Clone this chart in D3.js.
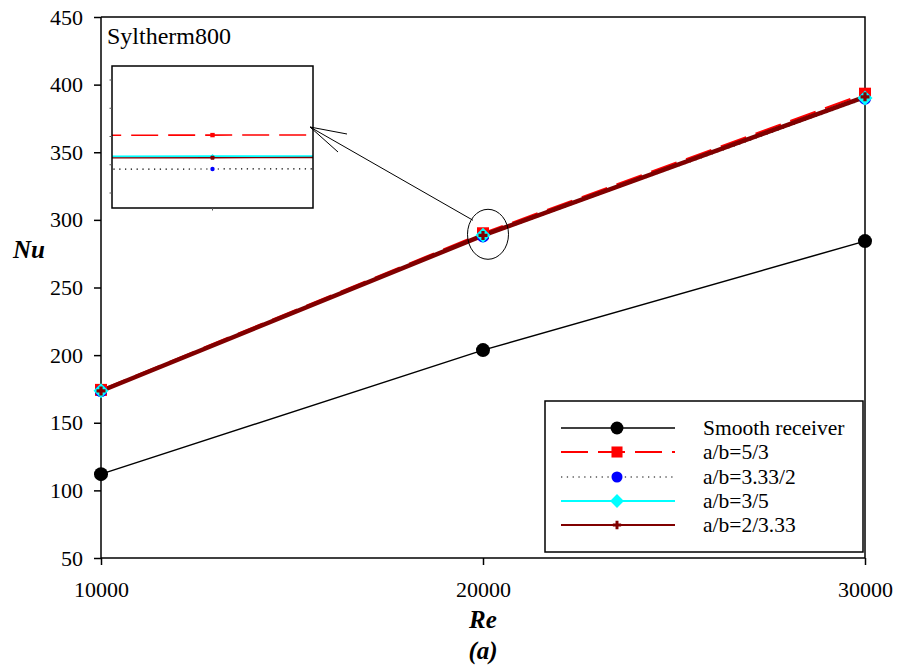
<!DOCTYPE html>
<html>
<head>
<meta charset="utf-8">
<script src="https://cdn.jsdelivr.net/npm/d3@7"></script>
<style>
  html, body { margin: 0; padding: 0; background: #fff; }
  svg text { font-family: "Liberation Serif", serif; fill: #000; }
</style>
</head>
<body>
<svg id="chart" width="901" height="670" font-family="Liberation Serif"></svg>
<script>
// Reynolds numbers on the x axis
const reValues = [10000, 20000, 30000];
// Nusselt number for each receiver
const nuSmooth = [112, 203.7, 284.3];
const nuAB53   = [174.3, 290.1, 393.3];
const nuAB332  = [173.3, 287.7, 389.6];
const nuAB35   = [173.6, 288.6, 390.2];
const nuAB233  = [173.5, 288.5, 391.0];
const yTicks = [50, 100, 150, 200, 250, 300, 350, 400, 450];
const xTicks = [10000, 20000, 30000];
const insetTicks = [286, 288, 290, 292, 294];
const seriesNames = ["Smooth receiver", "a/b=5/3", "a/b=3.33/2", "a/b=3/5", "a/b=2/3.33"];

const series = [
  { name: seriesNames[0], values: nuSmooth, line: "#000",    width: 1.5, dash: null,      marker: "circle",  fill: "#000",    size: 7 },
  { name: seriesNames[1], values: nuAB53,   line: "#ff0000", width: 2,   dash: "27,10",   marker: "square",  fill: "#ff0000", size: 6 },
  { name: seriesNames[2], values: nuAB332,  line: "#000",    width: 1.2, dash: "1.3,4.5", marker: "circle",  fill: "#0000ff", size: 6 },
  { name: seriesNames[3], values: nuAB35,   line: "#00ffff", width: 2,   dash: null,      marker: "diamond", fill: "#00ffff", size: 7.5 },
  { name: seriesNames[4], values: nuAB233,  line: "#800000", width: 4.5, dash: null,      marker: "plus",    fill: "#800000", size: 4.5 }
];

const svg = d3.select("#chart");
const L = 101, R = 865, T = 17, B = 558;

const x = d3.scaleLinear().domain([10000, 30000]).range([L, R]);
const y = d3.scaleLinear().domain([50, 450]).range([B, T]);

function drawMarker(g, type, cx, cy, s, fill, scale) {
  const k = scale || 1;
  s = s * k;
  if (type === "circle") {
    g.append("circle").attr("cx", cx).attr("cy", cy).attr("r", s).attr("fill", fill);
  } else if (type === "square") {
    g.append("rect").attr("x", cx - s).attr("y", cy - s).attr("width", 2 * s).attr("height", 2 * s).attr("fill", fill);
  } else if (type === "diamond") {
    g.append("path").attr("d", `M${cx},${cy - s}L${cx + s},${cy}L${cx},${cy + s}L${cx - s},${cy}Z`).attr("fill", fill);
  } else if (type === "plus") {
    const w = 1.6 * k;
    g.append("path")
      .attr("d", `M${cx - s},${cy - w}H${cx - w}V${cy - s}H${cx + w}V${cy - w}H${cx + s}V${cy + w}H${cx + w}V${cy + s}H${cx - w}V${cy + w}H${cx - s}Z`)
      .attr("fill", fill);
  }
}

// Frame (top and right edges)
svg.append("path")
  .attr("d", `M${L},${T}H${R}V${B}`)
  .attr("fill", "none").attr("stroke", "#000").attr("stroke-width", 1.5);

// Axes
const yAxis = d3.axisLeft(y).tickValues(yTicks).tickSize(7).tickPadding(11).tickFormat(d3.format("d"));
const xAxis = d3.axisBottom(x).tickValues(xTicks).tickSize(7).tickPadding(16).tickFormat(d3.format("d"));

const gy = svg.append("g").attr("transform", `translate(${L},0)`).call(yAxis);
const gx = svg.append("g").attr("transform", `translate(0,${B})`).call(xAxis);
[gy, gx].forEach(g => {
  g.attr("font-family", "Liberation Serif").attr("font-size", 22);
  g.select(".domain").attr("stroke", "#000").attr("stroke-width", 1.5);
  g.selectAll(".tick line").attr("stroke", "#000").attr("stroke-width", 1.5);
  g.selectAll(".tick text").attr("fill", "#000");
});
gy.select(".domain").attr("d", `M0,${B}V${T}`);
gx.select(".domain").attr("d", `M${L},0H${R}`);

// Series lines
const line = d3.line().x((d, i) => x(reValues[i])).y(d => y(d));
const plot = svg.append("g");
series.forEach(s => {
  plot.append("path").datum(s.values)
    .attr("d", line)
    .attr("fill", "none")
    .attr("stroke", s.line)
    .attr("stroke-width", s.width)
    .attr("stroke-dasharray", s.dash);
});
// Markers
series.forEach(s => {
  s.values.forEach((v, i) => drawMarker(plot, s.marker, x(reValues[i]), y(v), s.size, s.fill));
});

// Fluid label
svg.append("text").attr("x", 107).attr("y", 44).text("Syltherm800")
  .attr("font-size", 24);

// Highlight ellipse around Re = 20000
const ex = x(20000) + 5, ey = y(nuAB35[1]) - 1;
svg.append("ellipse").attr("cx", ex).attr("cy", ey).attr("rx", 20.5).attr("ry", 25)
  .attr("fill", "none").attr("stroke", "#000").attr("stroke-width", 1);

// Inset: magnified view around Re = 20000
const iL = 112, iR = 313, iT = 66, iB = 208;
const ix = d3.scaleLinear().domain([19999, 20001]).range([iL, iR]);
const iy = d3.scaleLinear().domain([286, 294]).range([193, 80]);
const inset = svg.append("g");
inset.append("rect").attr("x", iL).attr("y", iT).attr("width", iR - iL).attr("height", iB - iT)
  .attr("fill", "#fff");
svg.append("clipPath").attr("id", "insetClip").append("rect")
  .attr("x", iL).attr("y", iT).attr("width", iR - iL).attr("height", iB - iT);
const insetData = inset.append("g").attr("clip-path", "url(#insetClip)");
const iline = d3.line().x((d, i) => ix(reValues[i])).y(d => iy(d));
const insetWidths = [1, 1.6, 1.2, 2, 1.4];
series.forEach((s, k) => {
  if (k === 0) return;
  insetData.append("path").datum(s.values).attr("d", iline)
    .attr("fill", "none").attr("stroke", s.line).attr("stroke-width", insetWidths[k])
    .attr("stroke-dasharray", s.dash);
});
series.forEach((s, k) => {
  if (k === 0) return;
  drawMarker(insetData, s.marker, ix(20000), iy(s.values[1]), k === 4 ? 2 : 2.2, s.fill);
});
inset.append("rect").attr("x", iL).attr("y", iT).attr("width", iR - iL).attr("height", iB - iT)
  .attr("fill", "none").attr("stroke", "#000").attr("stroke-width", 1.5);
insetTicks.forEach(t => {
  inset.append("line").attr("x1", iL - 2.5).attr("x2", iL).attr("y1", iy(t)).attr("y2", iy(t))
    .attr("stroke", "#555").attr("stroke-width", 1);
});
inset.append("line").attr("x1", ix(20000)).attr("x2", ix(20000)).attr("y1", iB).attr("y2", iB + 2.5)
  .attr("stroke", "#555").attr("stroke-width", 1);

// Arrow from the ellipse to the inset
const tipX = iR - 3, tipY = 127;
const tailX = ex - 15, tailY = ey - 14;
svg.append("line").attr("x1", tailX).attr("y1", tailY).attr("x2", tipX).attr("y2", tipY)
  .attr("stroke", "#000").attr("stroke-width", 1);
svg.append("path").attr("d", `M${tipX + 37},${tipY + 7}L${tipX},${tipY}L${tipX + 28},${tipY + 25}`)
  .attr("fill", "none").attr("stroke", "#000").attr("stroke-width", 1);

// Axis titles
const titleStyle = t => t.attr("font-size", 25).attr("font-weight", "bold").attr("font-style", "italic");
svg.append("text").attr("x", 13).attr("y", 258).text("Nu").call(titleStyle);
svg.append("text").attr("x", x(20000)).attr("y", 628).attr("text-anchor", "middle").text("Re").call(titleStyle);
svg.append("text").attr("x", x(20000)).attr("y", 659).attr("text-anchor", "middle").text("(a)").call(titleStyle);

// Legend
const lg = svg.append("g");
lg.append("rect").attr("x", 545).attr("y", 401).attr("width", 318).attr("height", 151)
  .attr("fill", "#fff").attr("stroke", "#000").attr("stroke-width", 1.5);
const rowY = [428, 452, 477, 501, 525];
series.forEach((s, i) => {
  const yy = rowY[i];
  lg.append("line").attr("x1", 561).attr("x2", 675).attr("y1", yy).attr("y2", yy)
    .attr("stroke", s.line).attr("stroke-width", Math.min(s.width, 2))
    .attr("stroke-dasharray", s.dash);
  drawMarker(lg, s.marker, 617, yy, s.size, s.fill, 0.92);
  lg.append("text").attr("x", 703).attr("y", yy + 7).text(s.name)
    .attr("font-size", 21.5);
});
</script>
</body>
</html>
